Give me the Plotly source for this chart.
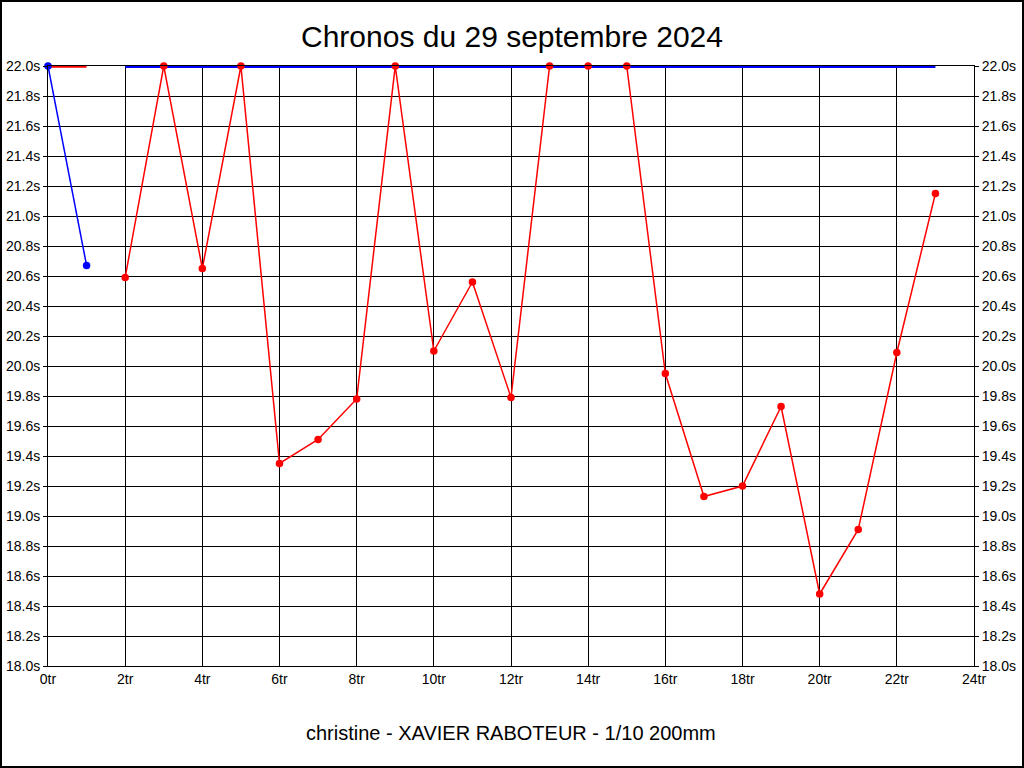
'''
    Lap time chart: Chronos du 29 septembre 2024.
'''
import plotly.graph_objects as go

# lap times (seconds) for the red series, laps 2..23
red_laps = [2, 3, 4, 5, 6, 7, 8, 9, 10, 11, 12, 13, 14, 15, 16, 17, 18, 19, 20, 21, 22, 23]
red_times = [20.59, 22.0, 20.65, 22.0, 19.35, 19.51, 19.78, 22.0, 20.10, 20.56, 19.79,
             22.0, 22.0, 22.0, 19.95, 19.13, 19.20, 19.73, 18.48, 18.91, 20.09, 21.15]

# blue series, laps 0..1
blue_laps = [0, 1]
blue_times = [22.0, 20.67]

# flat "off the chart" bars at the top
red_cap_laps = [0, 1]
red_cap_times = [22.0, 22.0]
blue_cap_laps = [2, 23]
blue_cap_times = [22.0, 22.0]

y_range = [18.0, 22.0]
x_range = [0, 24]

W, H = 1024, 768
L, R, T, B = 48, 50, 66, 102
PW, PH = W - L - R, H - T - B

FONT = 'Liberation Sans, Arial, sans-serif'

fig = go.Figure()

# lines first, thick caps over them, dots on top
fig.add_trace(go.Scatter(x=red_laps, y=red_times, mode='lines',
                         line=dict(color='#ff0000', width=1.5)))
fig.add_trace(go.Scatter(x=blue_laps, y=blue_times, mode='lines',
                         line=dict(color='#0000ff', width=1.5)))
fig.add_trace(go.Scatter(x=blue_cap_laps, y=blue_cap_times, mode='lines',
                         line=dict(color='#0000ff', width=4), hoverinfo='skip'))
fig.add_trace(go.Scatter(x=red_cap_laps, y=red_cap_times, mode='lines',
                         line=dict(color='#ff0000', width=3.5), hoverinfo='skip'))
fig.add_trace(go.Scatter(x=blue_laps, y=blue_times, mode='markers',
                         marker=dict(color='#0000ff', size=7.5)))
fig.add_trace(go.Scatter(x=red_laps, y=red_times, mode='markers',
                         marker=dict(color='#ff0000', size=7.5)))
fig.update_traces(cliponaxis=False)

# invisible trace to carry the right-hand axis
fig.add_trace(go.Scatter(x=[0], y=[22.0], yaxis='y2', mode='markers',
                         marker=dict(opacity=0), hoverinfo='skip'))

fig.update_xaxes(
    range=x_range, dtick=2, tick0=0, ticksuffix='tr',
    showgrid=True, gridcolor='black', gridwidth=1,
    showline=True, linecolor='black', linewidth=1, mirror=True,
    ticks='', zeroline=False, automargin=False,
    tickfont=dict(family=FONT, size=14, color='black'),
)
axis_y = dict(
    range=y_range, dtick=0.2, tick0=18.0, tickformat='.1f', ticksuffix='s',
    ticks='outside', ticklen=4, tickcolor='black',
    showline=True, linecolor='black', linewidth=1,
    zeroline=False, automargin=False,
    tickfont=dict(family=FONT, size=14, color='black'),
)
fig.update_layout(
    yaxis=dict(axis_y, showgrid=True, gridcolor='black', gridwidth=1, mirror=True),
    yaxis2=dict(axis_y, overlaying='y', side='right', showgrid=False),
)

# page frame
fig.add_shape(type='rect', xref='paper', yref='paper',
              x0=(-L + 1) / PW, x1=(PW + R - 1) / PW,
              y0=(-B + 1) / PH, y1=(PH + T - 1) / PH,
              line=dict(color='black', width=2), fillcolor='rgba(0,0,0,0)')

fig.add_annotation(text='christine - XAVIER RABOTEUR - 1/10 200mm',
                   xref='paper', yref='paper', x=0.5, y=-67 / PH,
                   showarrow=False, yanchor='middle',
                   font=dict(family=FONT, size=20, color='black'))

fig.update_layout(
    width=W, height=H,
    margin=dict(l=L, r=R, t=T, b=B),
    paper_bgcolor='white', plot_bgcolor='white',
    showlegend=False,
    title=dict(text='Chronos du 29 septembre 2024', x=0.5, xanchor='center',
               y=1 - 36 / H, yanchor='middle',
               font=dict(family=FONT, size=30, color='black')),
)

fig.write_html('out.html', config={'displayModeBar': False},
               post_script="document.body.style.margin='0';"
                           "document.body.style.overflow='hidden';")
